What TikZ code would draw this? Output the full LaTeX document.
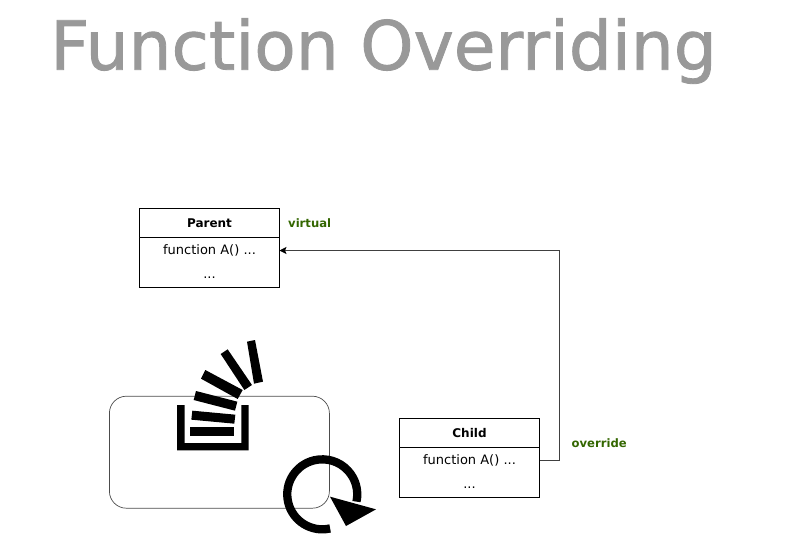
\documentclass[tikz,border=0pt]{standalone}
\usepackage{fontspec}
\setmainfont{DejaVu Sans}
\newfontfamily\titlefont[FakeBold=1.2]{DejaVu Sans}
\usetikzlibrary{arrows.meta}
\definecolor{titlegray}{HTML}{999999}
\definecolor{labgreen}{HTML}{336600}
\tikzset{
 umlbox/.style={draw=black,line width=0.8pt,fill=white,minimum width=140pt,inner sep=0pt,outer sep=0pt},
 headrow/.style={minimum width=140pt,minimum height=29pt,inner sep=0pt,outer sep=0pt,font=\fontsize{12pt}{14pt}\selectfont\bfseries},
 bodyrow/.style={minimum width=140pt,minimum height=25pt,inner sep=0pt,outer sep=0pt,font=\fontsize{13pt}{15pt}\selectfont},
 greenlab/.style={text=labgreen,inner sep=0pt,font=\fontsize{11.6pt}{14pt}\selectfont\bfseries},
 conn/.style={draw=black!75,line width=0.8pt,-{Stealth[length=7pt,width=7pt,inset=1.5pt,black]}},
 iconfill/.style={fill=black,draw=none}
}
\begin{document}
\begin{tikzpicture}[x=1pt,y=-1pt]
\useasboundingbox (0,0) rectangle (787,549);
\node[inner sep=0pt,text=titlegray,font=\titlefont\fontsize{67.8pt}{80pt}\selectfont] (title) at (383.5,51) {Function Overriding};

\node[draw=black!70,line width=0.7pt,rounded corners=17pt,minimum width=220pt,minimum height=112pt,inner sep=0pt] (rbox) at (219.4,452.2) {};

\draw[umlbox] (139.5,208.5) rectangle (279.5,287.5);
\draw[umlbox] (139.5,237.5) -- (279.5,237.5);
\node[headrow] (parenthead) at (209.5,223) {Parent};
\node[bodyrow] (parentfn) at (209.5,250.5) {function A() ...};
\node[bodyrow] (parentdots) at (209.5,278) {...};
\node[greenlab,anchor=west] (virtual) at (288,223) {virtual};

\draw[umlbox] (399.5,418.5) rectangle (539.5,497.5);
\draw[umlbox] (399.5,447.5) -- (539.5,447.5);
\node[headrow] (childhead) at (469.5,433) {Child};
\node[bodyrow] (childfn) at (469.5,460.5) {function A() ...};
\node[bodyrow] (childdots) at (469.5,488) {...};
\node[greenlab,anchor=west] (override) at (571.5,443) {override};

\draw[conn] (childfn.east) -- (559.5,460.5) -- (559.5,250.5) -- (parentfn.east);

\begin{scope}[shift={(100,330)},x=1pt/3,y=-1pt/3]
 \fill[iconfill] (231,225) -- (254,225) -- (254,339) -- (424,339) -- (424,225) -- (446,225) -- (446,361) -- (231,361) -- cycle;
 \fill[iconfill] (271,290) -- (402,290) -- (402,317) -- (271,317) -- cycle;
 \fill[iconfill] (277,242) -- (406,254) -- (403,281) -- (274,269) -- cycle;
 \fill[iconfill] (288,183) -- (412,215) -- (405,242) -- (281,210) -- cycle;
 \fill[iconfill] (316,120) -- (428,180) -- (413,207) -- (303,146) -- cycle;
 \fill[iconfill] (383,58) -- (456,165) -- (433,180) -- (362,72) -- cycle;
 \fill[iconfill] (465,30) -- (489,155) -- (462,161) -- (441,35) -- cycle;
 \draw[black,line width=8.3pt] (690.4,595.3) arc[start angle=77,end angle=372,radius=105];
 \fill[iconfill] (690,500) -- (828,538) -- (738,588) -- cycle;
\end{scope}
\end{tikzpicture}
\end{document}
